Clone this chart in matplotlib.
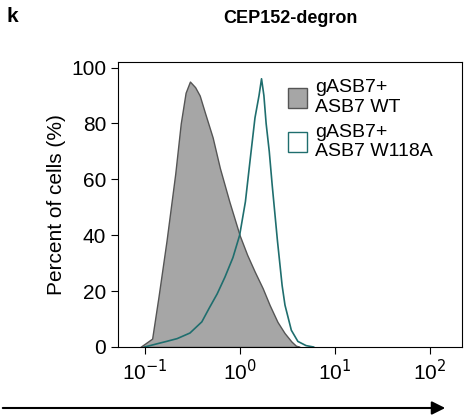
import matplotlib
matplotlib.use("Agg")
import matplotlib.pyplot as plt
from matplotlib.patches import Patch, FancyArrowPatch

plt.rcParams['font.family'] = ['Liberation Sans', 'DejaVu Sans']

# gASB7+ ASB7 WT (gray, filled)
wt_x = [0.09, 0.12, 0.14, 0.17, 0.21, 0.24, 0.27, 0.30, 0.34, 0.38, 0.43, 0.52, 0.62, 0.78, 1.0, 1.2, 1.44, 1.75, 2.07, 2.5, 2.97, 3.5, 3.9, 4.3]
wt_y = [0, 3, 18, 38, 62, 80, 91, 95, 93, 90, 84, 75, 64, 52, 40, 33, 27, 21, 15, 9, 5, 2, 0.5, 0]

# gASB7+ ASB7 W118A (teal outline)
mut_x = [0.1, 0.13, 0.17, 0.22, 0.3, 0.4, 0.48, 0.58, 0.7, 0.85, 1.0, 1.15, 1.3, 1.45, 1.6, 1.7, 1.8, 1.9, 2.05, 2.2, 2.5, 2.8, 3.0, 3.5, 4.1, 5.0, 6.0]
mut_y = [0, 1, 2, 3, 5, 9, 14, 19, 25, 32, 40, 52, 68, 82, 90, 96, 90, 80, 70, 58, 38, 22, 15, 6, 2, 0.5, 0]

fig = plt.figure(figsize=(4.68, 4.2), dpi=100)
ax = fig.add_axes([118/468, 1 - 347/420, (462-118)/468, (347-62)/420])

ax.fill_between(wt_x, wt_y, color='#a6a6a6', edgecolor='#555555', linewidth=1.0)
ax.plot(mut_x, mut_y, color='#1f6e6e', linewidth=1.2)

ax.set_xscale('log')
ax.set_xlim(10**-1.28, 10**2.34)
ax.set_ylim(0, 102)
ax.set_xticks([0.1, 1, 10, 100])
ax.set_xticklabels(['10$^{-1}$', '10$^{0}$', '10$^{1}$', '10$^{2}$'])
ax.minorticks_off()
ax.set_yticks([0, 20, 40, 60, 80, 100])
ax.tick_params(labelsize=15, direction='out', length=5)
ax.set_ylabel('Percent of cells (%)', fontsize=15)
ax.set_title('CEP152-degron', fontsize=13, fontweight='bold', pad=28)

handles = [Patch(facecolor='#a6a6a6', edgecolor='#555555'),
           Patch(facecolor='white', edgecolor='#1f6e6e')]
ax.legend(handles, ['gASB7+\nASB7 WT', 'gASB7+\nASB7 W118A'], loc='upper left',
          bbox_to_anchor=(0.46, 0.98), frameon=False, fontsize=14, handlelength=1.0,
          handleheight=1.2, borderaxespad=0.2, labelspacing=0.4, handletextpad=0.4)

fig.text(6/468, 1 - 22/420, 'k', fontsize=15, fontweight='bold')
fig.add_artist(FancyArrowPatch((0, 1 - 408/420), (448/468, 1 - 408/420),
               transform=fig.transFigure, arrowstyle='-|>', mutation_scale=20, color='black', lw=1.5))

fig.savefig('out.png', dpi=100)
